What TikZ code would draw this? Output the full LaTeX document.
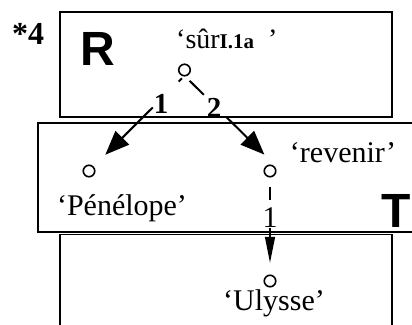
\documentclass[tikz,border=0pt]{standalone}
\usepackage{fontspec}
\setmainfont{Liberation Serif}
\newfontfamily\hsans{Liberation Sans}
\usetikzlibrary{arrows.meta,calc}
\begin{document}
\begin{tikzpicture}[x=1pt,y=-1pt,
  frame/.style={line width=1.8pt},
  pnt/.style={circle,draw,line width=1.6pt,minimum size=11.5pt,inner sep=0pt,outer sep=0pt},
  word/.style={font=\fontsize{30}{36}\selectfont,inner sep=0pt},
  boxletter/.style={font=\hsans\bfseries\fontsize{48}{56}\selectfont,inner sep=0pt},
  elabel/.style={font=\bfseries\fontsize{29}{32}\selectfont,inner sep=0pt},
  bigarrow/.style={line width=2pt,-{Triangle[length=24pt,width=19pt]}},
  smallarrow/.style={line width=1.4pt,-{Triangle[length=26pt,width=10pt]}}
]
\clip (0,0) rectangle (412,324);
\fill[white] (0,0) rectangle (412,324);
% frames
\draw[frame] (60,12) rectangle (392,117);
\draw[frame] (38,123) rectangle (430,232);
\draw[frame] (60,234.5) rectangle (392,340);
% texts
\node[font=\bfseries\fontsize{32}{36}\selectfont,inner sep=0pt,anchor=base west] (num) at (12,44) {*4};
\node[boxletter,anchor=base] (R) at (98,65) {R};
\node[boxletter,anchor=base west] (T) at (381,227) {T};
\node[inner sep=0pt,anchor=base west] (sur) at (176,48)
  {{\fontsize{28}{32}\selectfont ‘sûr}{\bfseries\fontsize{21}{24}\selectfont I.1a}\hspace{14pt}{\fontsize{28}{32}\selectfont ’}};
% points
\node[pnt] (root) at (184.5,70) {};
\node[pnt] (pen) at (89,171) {};
\node[pnt] (rev) at (270,171) {};
\node[pnt] (uly) at (270,281) {};
\node[word,anchor=base] (tpen) at (122,215) {‘Pénélope’};
\node[word,anchor=base] (trev) at (343,162) {‘revenir’};
\node[word,anchor=base] (tuly) at (274,310) {‘Ulysse’};
% edges
\draw[bigarrow,shorten <=3.7pt,shorten >=17.3pt,dash pattern=on 4.6pt off 36.6pt on 400pt]
  (root.south) -- (pen);
\draw[bigarrow,shorten <=7.2pt,shorten >=23.4pt,dash pattern=on 20pt off 31.8pt on 400pt]
  (root.south) -- ($(rev)+(11,0)$);
\draw[smallarrow,shorten <=10pt,shorten >=12.5pt,dash pattern=on 13pt off 28pt on 400pt]
  (rev) -- (uly);
% edge labels
\node[elabel,anchor=base] (l1) at (161,113) {1};
\node[elabel,anchor=base] (l2) at (214,117) {2};
\node[word,anchor=base] (l3) at (270,227) {1};
\end{tikzpicture}
\end{document}
